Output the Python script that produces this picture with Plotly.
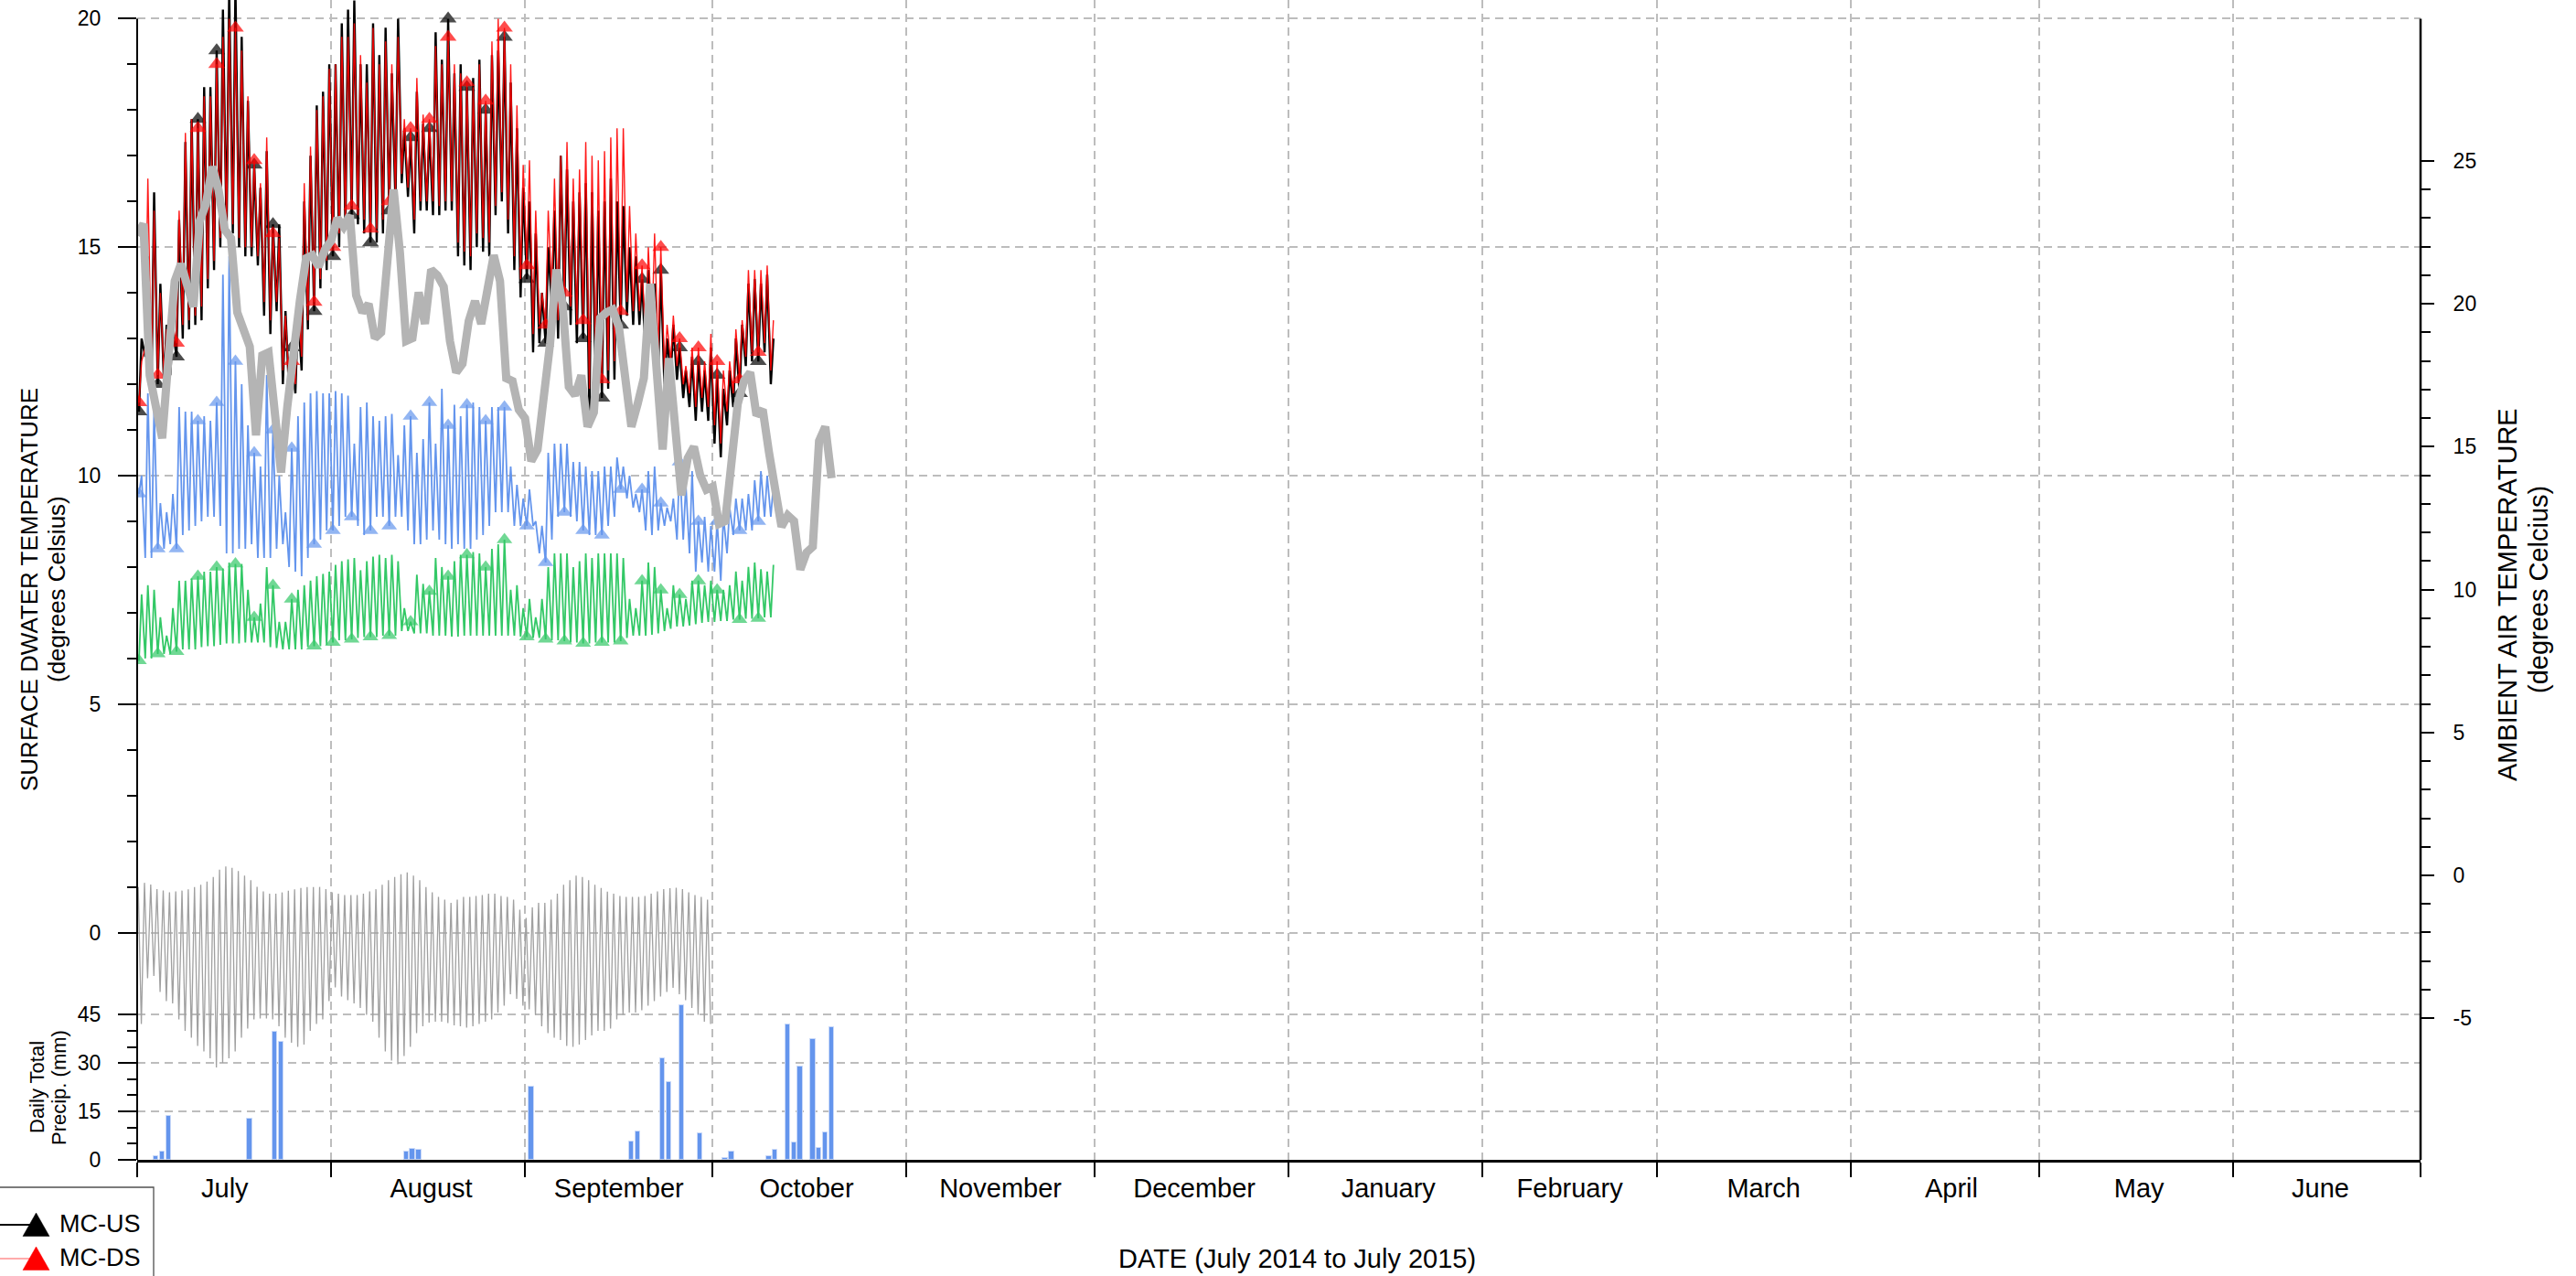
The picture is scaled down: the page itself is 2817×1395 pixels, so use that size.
import pandas as pd
import plotly.graph_objects as go

# ---------------- DATA ----------------
START = "2014-07-01"

# Daily maximum / minimum water temperature, 1 Jul 2014 .. 10 Oct 2014 (deg C)
US_HI = [13.0, 14.8, 16.2, 14.2, 13.3, 13.2, 15.6, 17.3, 17.8, 17.8,
         18.5, 18.5, 19.3, 20.2, 20.6, 20.7, 19.6, 18.2, 16.8, 16.3,
         17.1, 15.5, 15.5, 13.6, 12.8, 13.6, 16.0, 17.0, 18.1, 18.4,
         19.0, 19.0, 19.9, 20.2, 20.4, 19.0, 19.0, 19.9, 19.2, 19.8,
         18.8, 20.0, 17.6, 17.4, 18.4, 17.7, 17.6, 19.7, 19.1, 20.0,
         18.8, 19.0, 18.5, 18.7, 19.1, 18.0, 19.2, 19.3, 19.6, 18.6,
         17.6, 16.3, 16.0, 15.3, 14.0, 15.0, 15.8, 17.0, 16.7, 16.0,
         16.2, 16.4, 16.2, 15.8, 16.0, 16.5, 16.0, 15.9, 15.0, 14.8,
         14.3, 14.5, 14.2, 14.5, 13.0, 13.3, 12.8, 12.3, 12.6, 12.5,
         12.3, 12.8, 12.2, 11.9, 12.3, 13.0, 13.3, 14.2, 14.3, 14.2,
         14.4, 13.0]
US_LO = [11.4, 12.6, 12.0, 12.0, 12.0, 12.2, 12.6, 13.0, 13.2, 13.3,
         13.4, 14.1, 14.5, 15.0, 15.3, 15.3, 15.0, 14.8, 14.8, 14.6,
         13.5, 13.1, 13.6, 12.0, 11.8, 11.8, 12.3, 13.2, 13.6, 14.1,
         14.5, 14.8, 15.0, 15.4, 15.7, 15.5, 15.3, 15.1, 15.1, 15.3,
         15.8, 16.0, 16.4, 16.1, 15.3, 15.8, 15.8, 15.7, 15.7, 15.8,
         15.8, 14.8, 14.6, 14.5, 15.0, 14.9, 14.8, 15.7, 16.0, 15.3,
         14.5, 13.9, 14.3, 12.7, 12.9, 12.9, 13.7, 13.0, 13.7, 13.3,
         12.9, 13.0, 11.3, 11.9, 11.7, 11.9, 12.1, 13.3, 13.5, 13.3,
         13.3, 12.5, 12.9, 12.3, 11.9, 12.2, 12.1, 11.7, 11.5, 11.2,
         11.4, 11.2, 10.7, 10.4, 11.1, 11.5, 11.8, 12.4, 12.5, 12.5,
         12.7, 12.0]
DS_HI = [12.5, 16.5, 15.8, 14.0, 13.2, 13.3, 15.8, 17.5, 17.8, 17.6,
         18.3, 18.3, 19.0, 19.6, 20.0, 19.8, 19.3, 18.3, 16.9, 16.4,
         17.4, 15.3, 15.2, 13.5, 12.5, 13.8, 16.4, 17.2, 18.0, 18.3,
         18.9, 19.0, 19.6, 19.6, 19.9, 19.2, 18.6, 19.8, 19.0, 19.5,
         19.0, 19.6, 17.8, 17.6, 18.7, 17.9, 17.8, 19.4, 19.0, 19.6,
         19.0, 18.8, 18.6, 18.5, 19.0, 18.2, 19.5, 20.0, 19.8, 19.0,
         18.1, 16.8, 16.9, 15.8, 14.0, 15.8, 16.5, 17.0, 17.3, 16.5,
         16.7, 17.3, 17.0, 16.9, 17.1, 17.4, 17.6, 17.6, 15.9, 15.3,
         14.6, 15.0, 15.3, 15.0, 13.3, 13.5, 13.0, 12.4, 12.8, 12.8,
         12.5, 13.1, 12.5, 12.3, 12.5, 13.2, 13.4, 14.5, 14.5, 14.5,
         14.6, 13.4]
DS_LO = [11.6, 12.8, 12.2, 12.2, 12.2, 12.4, 12.9, 13.3, 13.4, 13.5,
         13.7, 14.3, 14.7, 15.2, 15.5, 15.5, 15.2, 15.0, 15.0, 14.8,
         13.8, 13.4, 13.8, 12.3, 12.0, 12.0, 12.6, 13.4, 13.8, 14.3,
         14.7, 15.0, 15.3, 15.6, 15.9, 15.7, 15.6, 15.4, 15.4, 15.6,
         16.0, 16.2, 16.6, 16.3, 15.6, 16.0, 16.0, 16.0, 15.9, 16.0,
         16.0, 15.1, 14.9, 14.8, 15.3, 15.2, 15.1, 15.9, 16.2, 15.6,
         14.8, 14.3, 14.6, 13.1, 13.3, 13.3, 14.0, 13.4, 14.0, 13.7,
         13.3, 13.4, 11.9, 12.3, 12.1, 12.3, 12.5, 13.6, 13.8, 13.6,
         13.6, 12.9, 13.2, 12.7, 12.3, 12.5, 12.4, 12.0, 11.8, 11.5,
         11.7, 11.5, 11.1, 10.7, 11.4, 11.8, 12.1, 12.6, 12.7, 12.7,
         12.9, 12.3]
BLUE_HI = [10.0, 11.8, 11.5, 9.4, 9.2, 9.6, 11.5, 11.4, 11.4, 11.2,
           11.3, 11.2, 11.6, 14.4, 14.8, 12.5, 12.0, 11.1, 10.5, 10.2,
           12.2, 11.0, 10.0, 9.2, 10.6, 11.3, 11.6, 11.8, 11.85, 11.8,
           11.8, 11.85, 11.8, 11.75, 10.7, 11.5, 11.6, 11.3, 11.2, 11.3,
           11.35, 10.45, 11.1, 11.3, 10.5, 10.8, 11.6, 10.7, 11.9, 11.1,
           11.55, 11.3, 11.55, 11.6, 11.5, 11.2, 11.5, 11.5, 11.5, 10.2,
           9.8, 9.5, 9.7, 9.0, 8.9, 10.5, 10.7, 10.7, 10.7, 10.3,
           10.3, 10.2, 10.1, 10.1, 10.2, 10.2, 10.4, 10.2, 10.0, 9.6,
           9.7, 10.1, 10.2, 9.4, 9.3, 9.5, 10.3, 9.8, 10.1, 9.0,
           9.1, 8.9, 9.0, 9.1, 9.3, 9.5, 9.5, 9.6, 9.9, 10.1,
           10.0, 9.8]
BLUE_LO = [9.6, 8.2, 8.2, 8.4, 8.4, 8.5, 8.4, 8.7, 8.8, 8.9,
           9.0, 9.1, 9.1, 8.9, 8.3, 8.3, 8.4, 8.4, 8.5, 8.2,
           8.2, 8.2, 8.4, 8.5, 8.0, 7.9, 7.8, 8.2, 8.5, 8.6,
           8.8, 8.8, 8.9, 9.1, 9.1, 8.9, 8.7, 8.8, 9.1, 9.1,
           8.9, 9.1, 9.1, 8.8, 8.5, 8.5, 8.6, 8.8, 8.6, 8.5,
           8.4, 8.5, 8.4, 8.4, 8.6, 8.7, 8.9, 9.2, 9.2, 9.2,
           8.9, 8.9, 8.9, 8.9, 8.3, 8.1, 8.6, 9.1, 9.2, 9.1,
           9.0, 8.8, 8.7, 8.7, 8.7, 8.9, 9.1, 9.7, 9.5, 9.3,
           9.2, 8.8, 8.7, 8.8, 8.9, 9.0, 8.6, 8.6, 8.3, 7.9,
           8.1, 7.9, 7.9, 7.7, 8.3, 8.7, 8.8, 8.8, 8.8, 9.0,
           9.1, 9.1]
GREEN_HI = [7.4, 7.6, 7.5, 6.9, 6.5, 7.1, 7.7, 7.7, 7.75, 7.8,
            7.9, 7.9, 8.0, 7.97, 8.1, 8.07, 8.07, 7.5, 6.9, 7.2,
            8.0, 7.6, 6.8, 6.8, 7.3, 7.5, 7.6, 7.7, 7.8, 7.85,
            7.9, 8.05, 8.13, 8.17, 8.2, 7.93, 8.13, 8.23, 8.27, 8.2,
            8.27, 8.13, 7.1, 6.8, 7.83, 7.63, 7.47, 8.2, 8.0, 7.8,
            8.13, 8.27, 8.27, 8.33, 8.3, 8.0, 8.4, 8.5, 8.6, 7.5,
            7.6, 7.1, 7.3, 6.9, 7.3, 8.0, 8.3, 8.3, 8.3, 8.0,
            8.13, 8.3, 8.2, 8.3, 8.3, 8.3, 8.3, 8.2, 7.3, 7.1,
            7.7, 8.1, 8.0, 7.5, 7.1, 7.6, 7.4, 7.3, 7.7, 7.7,
            7.6, 7.7, 7.5, 7.5, 7.6, 7.9, 7.7, 8.0, 8.1, 7.95,
            7.9, 8.05]
GREEN_LO = [5.95, 6.0, 6.0, 6.1, 6.1, 6.1, 6.15, 6.2, 6.2, 6.2,
            6.25, 6.27, 6.27, 6.3, 6.33, 6.33, 6.33, 6.35, 6.35, 6.35,
            6.35, 6.25, 6.23, 6.2, 6.2, 6.2, 6.2, 6.25, 6.27, 6.27,
            6.3, 6.35, 6.4, 6.4, 6.42, 6.45, 6.47, 6.47, 6.47, 6.5,
            6.5, 6.5, 6.6, 6.6, 6.55, 6.55, 6.55, 6.5, 6.5, 6.5,
            6.48, 6.48, 6.5, 6.5, 6.5, 6.5, 6.5, 6.5, 6.5, 6.5,
            6.5, 6.48, 6.47, 6.45, 6.45, 6.42, 6.4, 6.4, 6.38, 6.35,
            6.35, 6.33, 6.33, 6.35, 6.35, 6.35, 6.35, 6.38, 6.45, 6.5,
            6.5, 6.5, 6.52, 6.55, 6.6, 6.65, 6.7, 6.7, 6.72, 6.75,
            6.78, 6.8, 6.8, 6.82, 6.82, 6.85, 6.85, 6.87, 6.87, 6.88,
            6.9, 6.9]

# Temperature difference series (grey, around 0), 1 Jul .. 1 Oct
DIFF_HI = [1.0, 1.09, 1.05, 0.95, 0.92, 0.88, 0.9, 0.92, 0.95, 1.0,
           1.05, 1.12, 1.22, 1.38, 1.45, 1.42, 1.35, 1.25, 1.15, 1.0,
           0.9, 0.85, 0.85, 0.88, 0.92, 0.95, 0.98, 1.0, 1.0, 1.0,
           0.95, 0.88, 0.85, 0.82, 0.82, 0.82, 0.85, 0.9, 0.95, 1.05,
           1.15, 1.22, 1.28, 1.32, 1.25, 1.15, 1.0, 0.88, 0.78, 0.72,
           0.65, 0.72, 0.78, 0.78, 0.8, 0.82, 0.85, 0.85, 0.8, 0.78,
           0.72, 0.5, 0.32, 0.55, 0.65, 0.65, 0.72, 0.85, 1.05, 1.15,
           1.25, 1.22, 1.15, 1.05, 0.98, 0.9, 0.85, 0.8, 0.78, 0.78,
           0.78, 0.8, 0.85, 0.9, 0.95, 0.97, 0.98, 0.95, 0.88, 0.82,
           0.78, 0.72]
DIFF_LO = [-2.0, -1.0, -0.95, -1.3, -1.5, -1.55, -1.9, -2.15, -2.3, -2.48,
           -2.6, -2.75, -2.95, -2.85, -2.75, -2.6, -2.3, -2.1, -1.9, -1.88,
           -1.88, -1.9, -2.05, -2.3, -2.41, -2.5, -2.45, -2.15, -2.0, -1.9,
           -1.5, -1.2, -1.4, -1.48, -1.55, -1.65, -1.8, -1.95, -2.3, -2.6,
           -2.8, -2.88, -2.7, -2.5, -2.2, -2.05, -1.97, -1.95, -1.95, -1.98,
           -2.03, -2.05, -2.08, -2.05, -2.0, -1.95, -1.9, -1.75, -1.6, -1.35,
           -1.45, -1.6, -1.68, -1.8, -2.05, -2.2, -2.3, -2.35, -2.48, -2.5,
           -2.45, -2.35, -2.25, -2.15, -2.15, -2.1, -1.9, -1.8, -1.75, -1.75,
           -1.7, -1.6, -1.5, -1.4, -1.3, -1.21, -1.35, -1.48, -1.65, -1.8,
           -1.95, -2.0]

# Daily ambient air temperature, 1 Jul .. 20 Oct (right axis)
AIR_T = [22.4, 22.8, 17.5, 16.4, 15.3, 18.1, 20.8, 21.4, 20.7, 19.9,
         22.9, 23.5, 24.8, 24.0, 22.6, 22.3, 19.7, 19.0, 18.5, 15.4,
         18.2, 18.3, 16.2, 14.1, 16.4, 18.6, 20.1, 21.6, 21.7, 21.3,
         21.9, 22.2, 23.0, 22.7, 23.1, 20.3, 19.7, 20.0, 18.8, 19.0,
         21.5, 24.0, 21.8, 18.7, 18.8, 20.4, 19.3, 21.2, 21.0, 20.6,
         18.7, 17.6, 17.9, 19.4, 20.1, 19.3, 20.5, 21.7, 20.8, 17.4,
         17.3, 16.3, 16.0, 14.5, 14.9, 16.5, 18.6, 21.2, 20.0, 17.1,
         16.8, 17.5, 15.7, 16.2, 19.5, 19.7, 19.8, 19.2, 17.5, 15.7,
         16.5, 17.4, 20.7, 18.0, 14.9, 18.1, 15.3, 13.3, 14.6, 15.0,
         14.0, 13.5, 13.6, 12.3, 12.4, 14.4, 16.5, 17.3, 17.6, 16.1,
         16.3, 14.8, 13.6, 12.2, 12.6, 12.4, 10.7, 11.3, 11.5, 15.2,
         15.7, 13.9]

# Daily total precipitation (mm)
PRECIP_DATE = ["2014-07-04", "2014-07-05", "2014-07-06", "2014-07-19", "2014-07-23",
               "2014-07-24", "2014-08-13", "2014-08-14", "2014-08-15", "2014-09-02",
               "2014-09-18", "2014-09-19", "2014-09-23", "2014-09-24", "2014-09-26",
               "2014-09-29", "2014-10-03", "2014-10-04", "2014-10-10", "2014-10-11",
               "2014-10-13", "2014-10-14", "2014-10-15", "2014-10-17", "2014-10-18",
               "2014-10-19", "2014-10-20"]
PRECIP_MM = [1.2, 2.5, 13.6, 12.8, 39.6, 36.6, 2.4, 3.5, 3.2, 22.8,
             5.7, 8.7, 31.5, 24.2, 47.8, 8.3, 0.5, 2.5, 1.0, 3.0,
             42.0, 5.4, 29.0, 37.3, 3.6, 8.6, 41.0]

MONTH_LABELS = ["July", "August", "September", "October", "November", "December",
                "January", "February", "March", "April", "May", "June"]
MONTH_LABEL_DATES = ["2014-07-15", "2014-08-17", "2014-09-16", "2014-10-16",
                     "2014-11-16", "2014-12-17", "2015-01-17", "2015-02-15",
                     "2015-03-18", "2015-04-17", "2015-05-17", "2015-06-15"]
TEMP_TICKS = [0, 5, 10, 15, 20]
PRECIP_TICKS = [0, 15, 30, 45]
AIR_TICKS = [-5, 0, 5, 10, 15, 20, 25]
AIR_TICK_TEXT = ["-5", "0", "5", "10", "15", "20", "25"]
LEGEND_NAMES = ["MC-US", "MC-DS"]

# ---------------- helpers ----------------
start = pd.Timestamp(START)


def daily_zigzag(first, first_hour, second, second_hour):
    t, v = [], []
    for d, (a, b) in enumerate(zip(first, second)):
        day = start + pd.Timedelta(days=d)
        t += [day + pd.Timedelta(hours=first_hour), day + pd.Timedelta(hours=second_hour)]
        v += [a, b]
    return t, v


def marker_sizes(n, size, step=6.18):
    s = [0] * n
    k = 0
    while round(k * step) < n:
        s[round(k * step)] = size
        k += 1
    return s


W, H = 2817, 1395
ML, MR, MT, MB = 150, 170, 0, 127
PW, PH = W - ML - MR, H - MT - MB


def px_x(px):
    return (px - ML) / PW


def px_y(py):
    return (H - MB - py) / PH


def axis_range(v_a, py_a, v_b, py_b):
    fa, fb = px_y(py_a), px_y(py_b)
    span = (v_b - v_a) / (fb - fa)
    lo = v_a - fa * span
    return [lo, lo + span]


temp_range = axis_range(0, 1019.6, 20, 20.4)
air_range = axis_range(-5, 1113.2, 25, 176.0)
precip_range = axis_range(0, 1268.0, 45, 1109.3)
precip_range[0] -= 0.02
top20 = px_y(20.4)

FONT = "Liberation Sans, Arial, Helvetica, sans-serif"
GRID = "#BDBDBD"
DASH = "9px,6px"
BLUE = "#6495ED"
GREEN = "#33C866"

fig = go.Figure()

# blue and green series
for hi, lo, col, nm in [(BLUE_HI, BLUE_LO, BLUE, "blue site"), (GREEN_HI, GREEN_LO, GREEN, "green site")]:
    t, v = daily_zigzag(lo, 7, hi, 17)
    fig.add_trace(go.Scatter(x=t, y=v, mode="lines+markers", name=nm, showlegend=False,
                             line=dict(color=col, width=1.8),
                             marker=dict(symbol="triangle-up", color=col,
                                         size=marker_sizes(len(v), 15), line=dict(width=0))))

# difference series around 0
t, v = daily_zigzag(DIFF_HI, 4, DIFF_LO, 16)
fig.add_trace(go.Scatter(x=t, y=v, mode="lines", showlegend=False, name="difference",
                         line=dict(color="#A0A0A0", width=1.3)))

# MC-US and MC-DS
for hi, lo, col, mcol, w, nm in [(US_HI, US_LO, "black", "black", 2.4, LEGEND_NAMES[0]),
                                 (DS_HI, DS_LO, "rgba(255,0,0,0.9)", "red", 1.4, LEGEND_NAMES[1])]:
    t, v = daily_zigzag(lo, 7, hi, 17)
    fig.add_trace(go.Scatter(x=t, y=v, mode="lines+markers", name=nm, showlegend=False,
                             line=dict(color=col, width=w),
                             marker=dict(symbol="triangle-up", color=mcol,
                                         size=marker_sizes(len(v), 16), line=dict(width=0))))

# ambient air temperature (right axis)
air_t = [start + pd.Timedelta(days=d) for d in range(len(AIR_T))]
fig.add_trace(go.Scatter(x=air_t, y=AIR_T, mode="lines", yaxis="y2", showlegend=False,
                         name="air", line=dict(color="#B4B4B4", width=9)))

# precipitation bars
fig.add_trace(go.Bar(x=pd.to_datetime(PRECIP_DATE), y=PRECIP_MM, yaxis="y3", showlegend=False,
                     name="precip", width=0.78 * 86400000,
                     marker=dict(color=BLUE, line=dict(color="#C8D8F8", width=1))))

tick_common = dict(tickcolor="black", tickwidth=2, tickfont=dict(family=FONT, size=23, color="black"))

fig.update_layout(
    width=W, height=H,
    margin=dict(l=ML, r=MR, t=MT, b=MB, autoexpand=False),
    paper_bgcolor="white", plot_bgcolor="white",
    font=dict(family=FONT, color="black"),
    bargap=0,
    showlegend=False,
    xaxis=dict(type="date", range=["2014-07-01", "2015-07-01"],
               tickmode="array", tickvals=MONTH_LABEL_DATES, ticktext=MONTH_LABELS,
               ticks="", showgrid=False, zeroline=False,
               showline=True, linecolor="black", linewidth=2.5,
               tickfont=dict(family=FONT, size=29, color="black"),
               ticklabelstandoff=3,
               minor=dict(tickmode="linear", tick0="2014-07-01", dtick="M1",
                          ticks="outside", ticklen=16, tickwidth=2, tickcolor="black",
                          showgrid=True, gridcolor=GRID, griddash=DASH, gridwidth=1.5)),
    yaxis=dict(range=temp_range, tickmode="array", tickvals=TEMP_TICKS,
               ticks="outside", ticklen=20, showgrid=True, gridcolor=GRID,
               griddash=DASH, gridwidth=1.5, zeroline=False, showline=False,
               ticklabelstandoff=14,
               minor=dict(tickmode="array",
                          tickvals=[v for v in range(1, 20) if v % 5],
                          ticks="outside", ticklen=10, tickwidth=2, tickcolor="black",
                          showgrid=False),
               **tick_common),
    yaxis2=dict(overlaying="y", side="right", anchor="x", range=air_range,
                tickmode="array", tickvals=AIR_TICKS, ticktext=AIR_TICK_TEXT,
                ticks="outside", ticklen=14,
                showgrid=False, zeroline=False, showline=False, ticklabelstandoff=16,
                minor=dict(tickmode="array",
                           tickvals=[v for v in range(-4, 25) if v % 5],
                           ticks="outside", ticklen=10, tickwidth=2, tickcolor="black",
                           showgrid=False),
                **tick_common),
    yaxis3=dict(overlaying="y", side="left", anchor="x", range=precip_range,
                tickmode="array", tickvals=PRECIP_TICKS, ticks="outside", ticklen=20,
                showgrid=True, gridcolor=GRID, griddash=DASH, gridwidth=1.5,
                zeroline=False, showline=False, ticklabelstandoff=14,
                minor=dict(tickmode="array", tickvals=[5, 10, 20, 25, 35, 40],
                           ticks="outside", ticklen=10, tickwidth=2, tickcolor="black",
                           showgrid=False),
                **tick_common),
)

# axis lines (left / right) spanning from the bottom up to the 20-degree level
fig.add_shape(type="line", xref="paper", yref="paper", x0=0, x1=0, y0=0, y1=top20,
              line=dict(color="black", width=2))
fig.add_shape(type="line", xref="paper", yref="paper", x0=1, x1=1, y0=0, y1=top20,
              line=dict(color="black", width=2.5))

# legend box (partly outside the page, as in the original)
fig.add_shape(type="rect", xref="paper", yref="paper",
              x0=px_x(-6), x1=px_x(168), y0=px_y(1420), y1=px_y(1298),
              line=dict(color="#505050", width=1.3), fillcolor="white", layer="above")
legend_items = [(LEGEND_NAMES[0], 1339, "black", "black", 2),
                (LEGEND_NAMES[1], 1376, "rgba(255,60,60,0.85)", "red", 1.2)]
for name, yc, lcol, mcol, lw in legend_items:
    fig.add_shape(type="line", xref="paper", yref="paper", x0=px_x(-6), x1=px_x(40),
                  y0=px_y(yc), y1=px_y(yc), line=dict(color=lcol, width=lw), layer="above")
    tri = "M {:.6f} {:.6f} L {:.6f} {:.6f} L {:.6f} {:.6f} Z".format(
        px_x(25), px_y(yc + 12.5), px_x(54), px_y(yc + 12.5), px_x(39.5), px_y(yc - 13))
    fig.add_shape(type="path", xref="paper", yref="paper", path=tri,
                  fillcolor=mcol, line=dict(color=mcol, width=0.5), layer="above")
    fig.add_annotation(text=name, x=px_x(63), y=px_y(yc - 1), xref="paper", yref="paper",
                       showarrow=False, xanchor="left", yanchor="middle",
                       font=dict(family=FONT, size=27, color="black"))

ann = [
    ("SURFACE DWATER TEMPERATURE", 32, 645, 26, -90),
    ("(degrees Celsius)", 62, 644, 26, -90),
    ("Daily Total", 40, 1189, 22, -90),
    ("Precip. (mm)", 64, 1189, 22, -90),
    ("AMBIENT AIR TEMPERATURE", 2742, 650, 29, -90),
    ("(degrees Celcius)", 2776, 645, 29, -90),
    ("DATE (July 2014 to July 2015)", 1418, 1376, 29, 0),
]
for text, x, y, size, ang in ann:
    fig.add_annotation(text=text, x=px_x(x), y=px_y(y), xref="paper", yref="paper",
                       showarrow=False, textangle=ang, xanchor="center", yanchor="middle",
                       font=dict(family=FONT, size=size, color="black"))

fig.write_html("out.html", config={"displayModeBar": False},
               post_script="document.body.style.margin='0';document.body.style.overflow='hidden';")
